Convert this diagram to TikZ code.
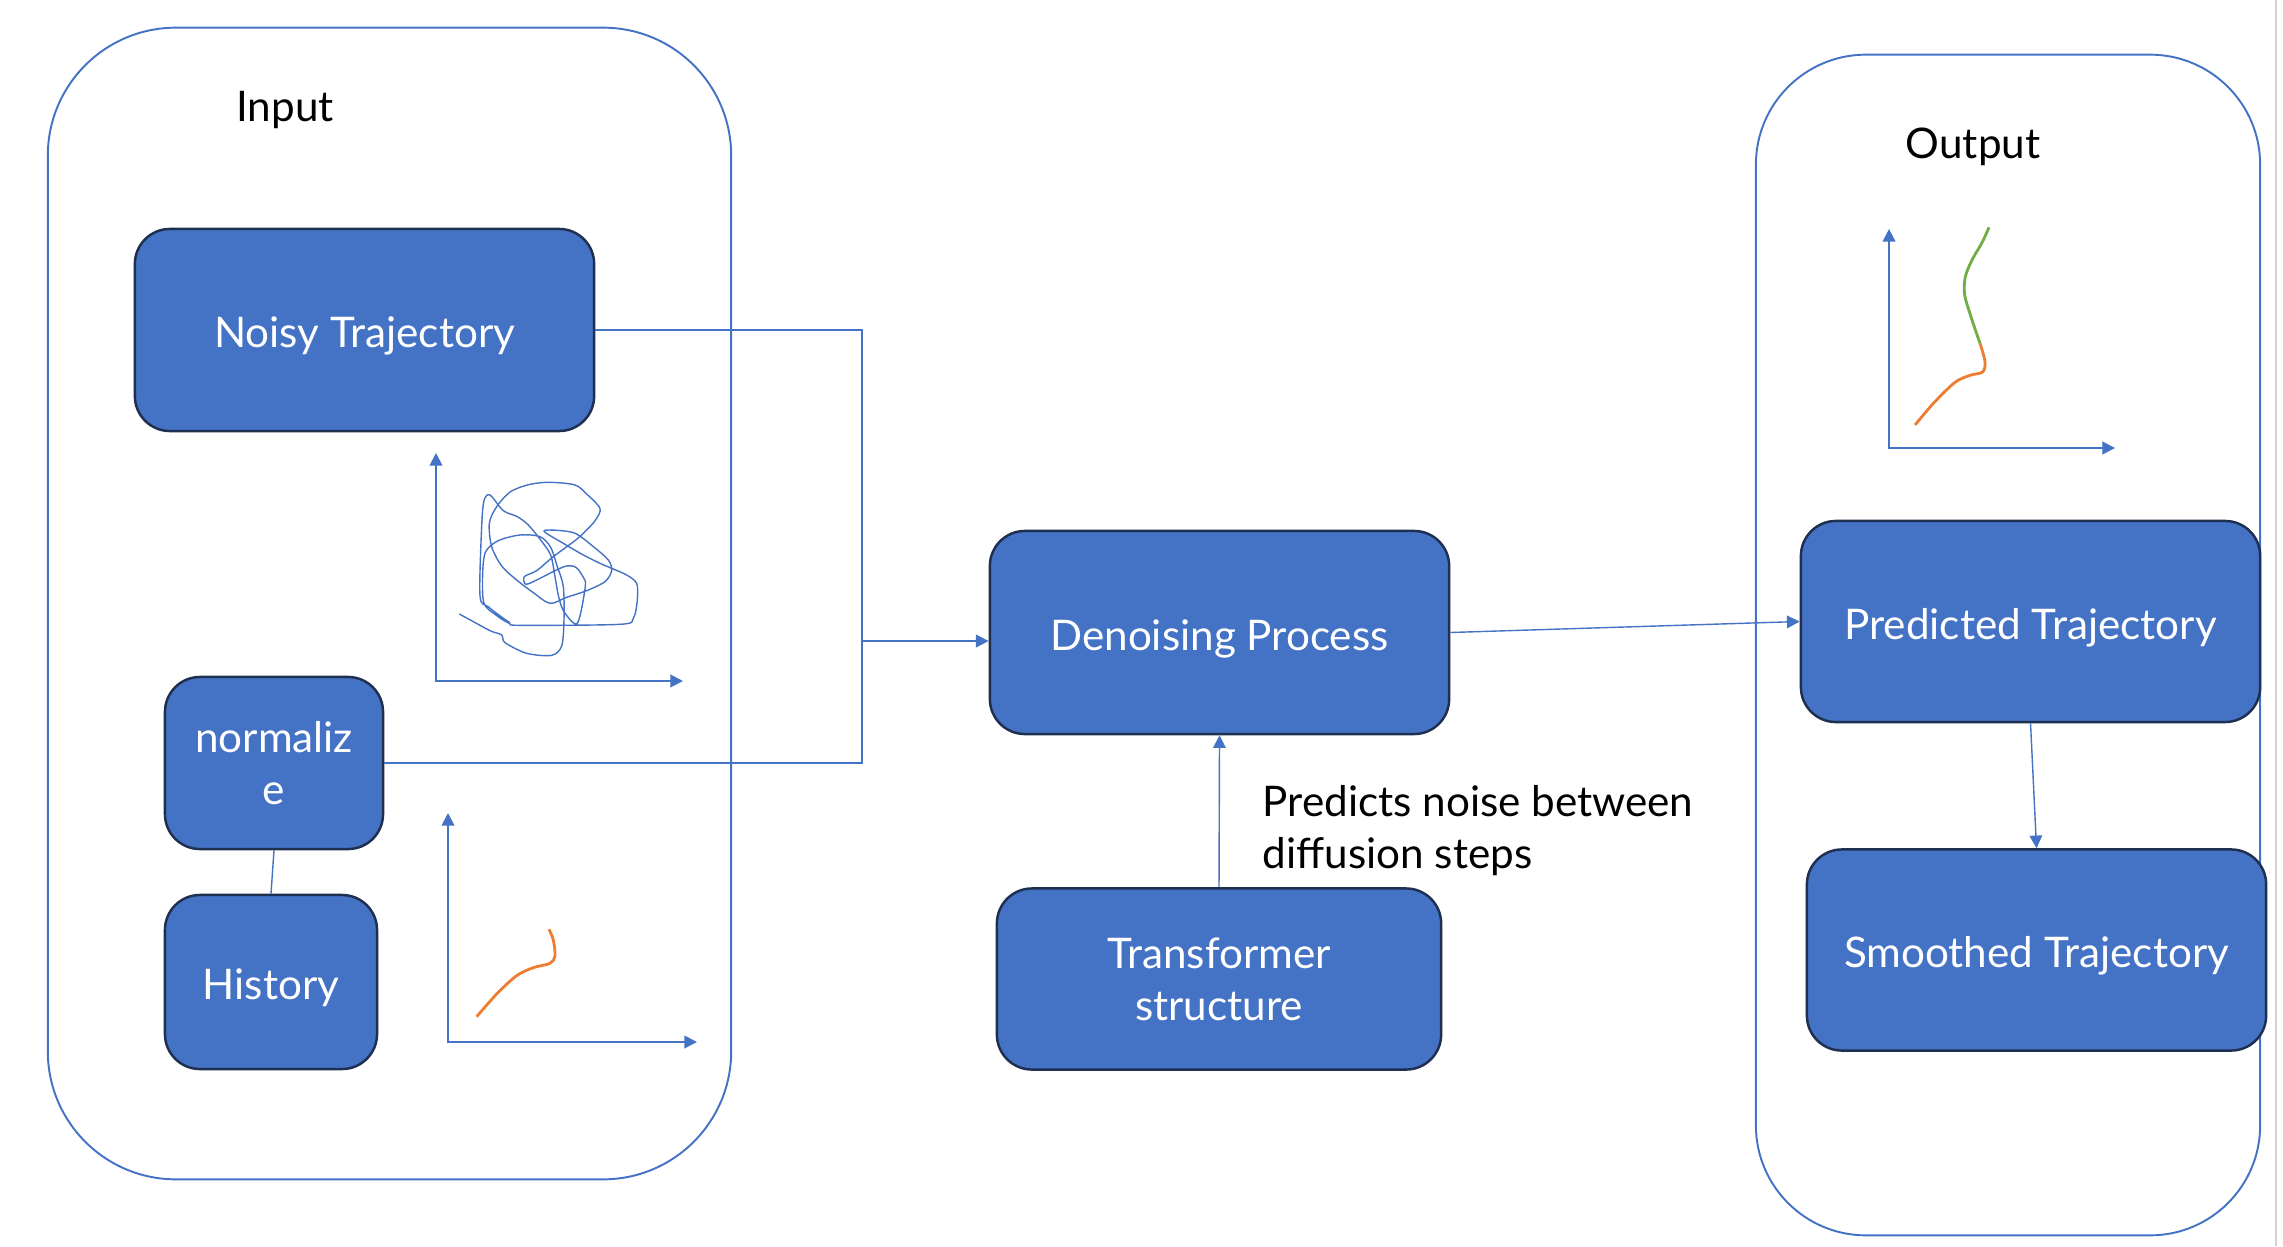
\documentclass[tikz,border=0pt]{standalone}
\usepackage{fontspec}
\setmainfont{Lato}
\usetikzlibrary{arrows.meta}
\definecolor{boxblue}{HTML}{4472C4}
\definecolor{boxedge}{HTML}{1F2F4F}
\definecolor{curveorange}{HTML}{ED7D31}
\definecolor{curvegreen}{HTML}{70AD47}
\begin{document}
\begin{tikzpicture}[x=0.01cm,y=-0.01cm,
	blk/.style={draw=boxedge,line width=0.7pt,fill=boxblue,rounded corners=0.35cm,text=white,align=center,inner sep=0pt,font=\fontsize{12}{14.8}\selectfont},
	one/.style={text height=10.2pt,text depth=0pt},
	frame/.style={draw=boxblue,line width=0.55pt,inner sep=0pt},
	link/.style={draw=boxblue,line width=0.4pt},
	tip/.style={-{Triangle[length=3.6pt,width=3.6pt]}},
	axis/.style={draw=boxblue,line width=0.55pt,{Triangle[length=3.6pt,width=3.6pt]}-{Triangle[length=3.6pt,width=3.6pt]}},
	lbl/.style={font=\fontsize{12}{14.8}\selectfont,align=left,inner sep=0pt}]
				\useasboundingbox (0,0) rectangle (2283,1246);
				\draw[gray!35,line width=0.6pt] (2276,0) -- (2276,1246);

				% containers
				\node[frame,rounded corners=1.28cm,minimum width=6.83cm,minimum height=11.51cm] (I) at (389.5,603.5) {};
				\node[frame,rounded corners=1.1cm,minimum width=5.04cm,minimum height=11.80cm] (O) at (2008,645) {};
				\node[lbl] (IL) at (285,110) {Input};
				\node[lbl] (OL) at (1973,147) {Output};

				% boxes
				\node[blk,one,minimum width=4.59cm,minimum height=2.02cm] (N) at (364.5,330) {Noisy Trajectory};
				\node[blk,minimum width=2.18cm,minimum height=1.72cm] (Z) at (274,763) {normaliz\\e};
				\node[blk,one,minimum width=2.12cm,minimum height=1.74cm] (H) at (271,982) {History};
				\node[blk,one,minimum width=4.59cm,minimum height=2.03cm] (D) at (1219.5,632.5) {Denoising Process};
				\node[blk,minimum width=4.44cm,minimum height=1.81cm] (T) at (1219,979) {Transformer\\structure};
				\node[blk,one,minimum width=4.59cm,minimum height=2.01cm] (P) at (2030.5,621.5) {Predicted Trajectory};
				\node[blk,one,minimum width=4.59cm,minimum height=2.01cm] (S) at (2036.5,950) {Smoothed Trajectory};
				\node[lbl,anchor=west] (L) at (1262,831) {Predicts noise between\\diffusion steps};

				% connectors
				\coordinate (J) at (862,641);
				\draw[link] (N.east) -| (J);
				\draw[link] (Z.east) -| (J);
				\path (J) edge[link,tip] (J -| D.west);
				\path (D.east) edge[link,tip] (P.west);
				\path (T.north) edge[link,tip] (D.south);
				\path (P.south) edge[link,tip] (S.north);
				\path (Z.south) edge[link] (H.north);

				% small plots
				\draw[axis] (436,453) -- (436,681) -- (683,681);
				\draw[axis] (448,813) -- (448,1042) -- (697,1042);
				\draw[axis] (1889,229) -- (1889,448) -- (2115,448);

				\begin{scope}[shift={(420,440)},scale=0.3333]
				\draw[boxblue,line width=0.4pt,line join=round] plot[smooth,tension=0.5] coordinates {
					(118,522) (160,545) (212,573) (245,585) (255,608) (320,640) (395,646) (425,618) (432,540) (430,440)
					(412,380) (392,322) (360,290) (300,285) (235,302) (197,335) (188,400) (192,490) (232,528) (268,550)
					(300,556) (600,553) (640,535) (652,480) (650,430) (620,405) (575,385) (540,370) (490,345) (430,310)
					(372,272) (460,278) (520,320) (565,360) (575,392) (555,425) (500,452) (440,472) (390,490) (340,458)
					(290,420) (245,378) (215,320) (208,250) (230,200) (272,155) (330,133) (390,127) (465,135) (500,162)
					(540,205) (528,238) (505,265) (470,298) (400,350) (350,392) (313,410) (318,433) (360,415) (405,392)
					(440,378) (468,382) (490,412) (496,440) (472,550) (432,515) (416,470) (405,410) (392,345) (362,300)
					(325,255) (292,230) (250,212) (210,165) (192,182) (185,260) (180,468) (205,500) (250,535) (270,548)};
				\end{scope}
				\begin{scope}[shift={(420,800)},scale=0.3333]
				\draw[curveorange,line width=0.8pt] plot[smooth] coordinates {
					(170,650) (230,582) (290,527) (340,503) (390,490) (405,468) (400,420) (387,388)};
				\end{scope}
				\begin{scope}[shift={(1860,200)},scale=0.3333]
				\draw[curveorange,line width=0.8pt] plot[smooth] coordinates {
					(165,675) (222,608) (285,547) (330,526) (368,516) (375,485) (360,430)};
				\draw[curvegreen,line width=0.8pt] plot[smooth] coordinates {
					(360,430) (336,360) (314,285) (316,230) (336,180) (366,128) (387,82)};
				\end{scope}
			\end{tikzpicture}
\end{document}
